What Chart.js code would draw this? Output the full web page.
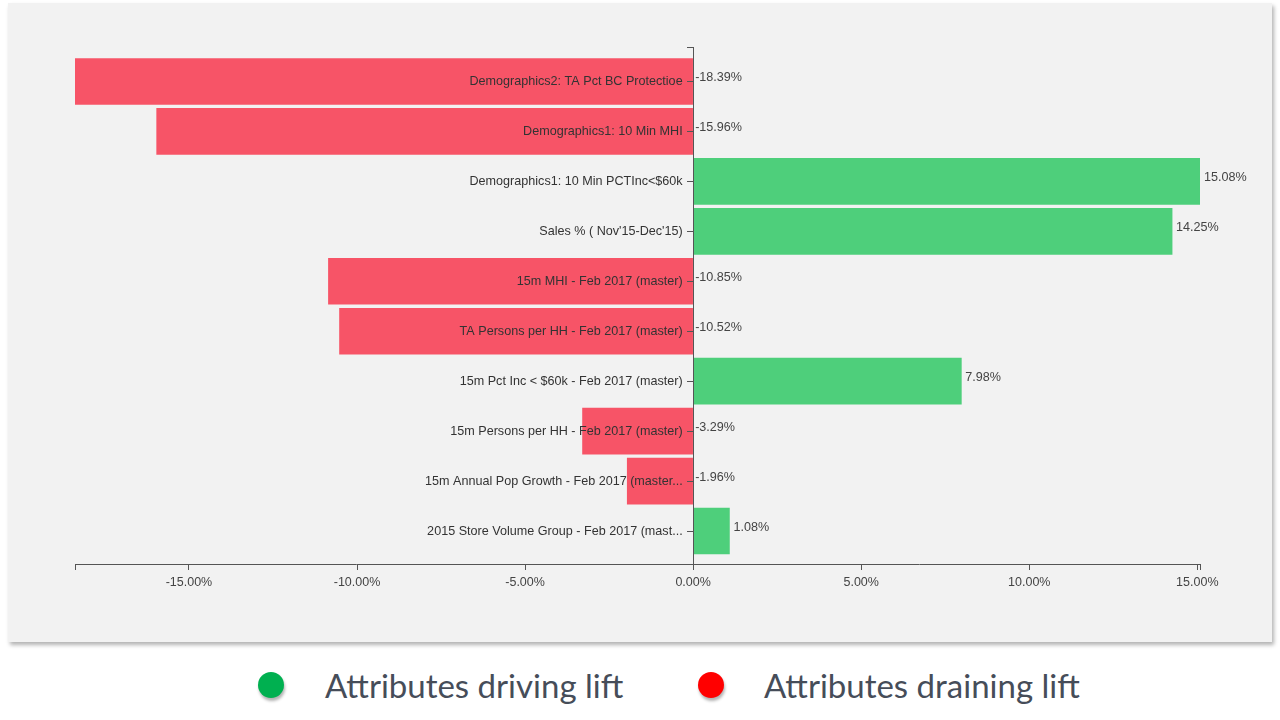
<!DOCTYPE html>
<html>
<head>
<meta charset="utf-8">
<script src="https://cdn.jsdelivr.net/npm/chart.js@4.4.1/dist/chart.umd.min.js"></script>
<style>
  html, body { margin: 0; padding: 0; background: #fff; }
  body { width: 1280px; height: 720px; position: relative; overflow: hidden; }
  #panel {
    position: absolute; left: 8px; top: 3px; width: 1264px; height: 639px;
    background: #f2f2f2; box-shadow: 2px 3px 4px rgba(0, 0, 0, 0.3);
  }
  #legend {
    position: absolute; left: 0; top: 662px; width: 1280px; height: 46px;
    font-family: Lato, "Open Sans", sans-serif; font-size: 33px; color: #464d59;
  }
  .item { position: absolute; top: 0; height: 46px; line-height: 46px; white-space: nowrap; }
  .dot {
    position: absolute; top: 10px; width: 26px; height: 26px; border-radius: 50%;
    box-shadow: 1px 3px 3px rgba(0, 0, 0, 0.3);
  }
</style>
</head>
<body>
<div id="panel"><canvas id="chart"></canvas></div>
<div id="legend">
  <div class="dot" style="left:258px;background:#00b050"></div>
  <div class="item" style="left:325px">Attributes driving lift</div>
  <div class="dot" style="left:698px;background:#ff0000"></div>
  <div class="item" style="left:764px">Attributes draining lift</div>
</div>
<script>
  var categories = [
    'Demographics2: TA Pct BC Protectioe',
    'Demographics1: 10 Min MHI',
    'Demographics1: 10 Min PCTInc<$60k',
    "Sales % ( Nov'15-Dec'15)",
    '15m MHI - Feb 2017 (master)',
    'TA Persons per HH - Feb 2017 (master)',
    '15m Pct Inc < $60k - Feb 2017 (master)',
    '15m Persons per HH - Feb 2017 (master)',
    '15m Annual Pop Growth - Feb 2017 (master...',
    '2015 Store Volume Group - Feb 2017 (mast...'
  ];
  var liftValues = [-18.39, -15.96, 15.08, 14.25, -10.85, -10.52, 7.98, -3.29, -1.96, 1.08];
  var xTickValues = [-15, -10, -5, 0, 5, 10, 15];

  var GREEN = '#4ecf7b';
  var RED = '#f75467';
  var AXIS = '#555';
  var FONT = 'Arial, "Liberation Sans", sans-serif';

  var xMin = Math.min.apply(null, liftValues);
  var xMax = Math.max.apply(null, liftValues);

  // value labels next to the zero line (negative) or at the bar end (positive)
  var valueLabels = {
    id: 'valueLabels',
    afterDatasetsDraw: function (chart) {
      var ctx = chart.ctx;
      var meta = chart.getDatasetMeta(0);
      var zero = chart.scales.x.getPixelForValue(0);
      ctx.save();
      ctx.font = '12.6px ' + FONT;
      ctx.fillStyle = '#444';
      ctx.textAlign = 'left';
      ctx.textBaseline = 'middle';
      meta.data.forEach(function (bar, i) {
        var v = liftValues[i];
        var x = v < 0 ? zero + 2 : bar.x + 4;
        ctx.fillText(v.toFixed(2) + '%', x, bar.y - 4);
      });
      ctx.restore();
    }
  };

  new Chart(document.getElementById('chart'), {
    type: 'bar',
    data: {
      datasets: [{
        data: liftValues.map(function (v, i) { return { x: v, y: i }; }),
        backgroundColor: liftValues.map(function (v) { return v < 0 ? RED : GREEN; }),
        barThickness: 46,
        borderWidth: 0
      }]
    },
    options: {
      indexAxis: 'y',
      responsive: true,
      maintainAspectRatio: false,
      animation: false,
      layout: { padding: { left: 67, right: 72, top: 44, bottom: 47 } },
      plugins: { legend: { display: false }, tooltip: { enabled: false } },
      scales: {
        x: {
          type: 'linear',
          position: 'bottom',
          min: xMin,
          max: xMax,
          afterBuildTicks: function (scale) {
            scale.ticks = [xMin].concat(xTickValues, [xMax]).map(function (v) { return { value: v }; });
          },
          grid: { drawOnChartArea: false, tickLength: 6, color: AXIS },
          border: { color: AXIS },
          ticks: {
            autoSkip: false,
            maxRotation: 0,
            padding: 5,
            color: '#444',
            font: { family: FONT, size: 12.5 },
            callback: function (v) {
              return xTickValues.indexOf(v) >= 0 ? v.toFixed(2) + '%' : '';
            }
          }
        },
        y: {
          type: 'linear',
          position: { x: 0 },
          reverse: true,
          offset: false,
          min: -0.69,
          max: categories.length - 1 + 0.66,
          afterBuildTicks: function (scale) {
            var t = [scale.min];
            categories.forEach(function (c, i) { t.push(i); });
            t.push(scale.max);
            scale.ticks = t.map(function (v) { return { value: v }; });
          },
          grid: { offset: false, drawOnChartArea: false, tickLength: 6, color: AXIS, z: 1 },
          border: { color: AXIS, z: 1 },
          ticks: {
            z: 1,
            autoSkip: false,
            color: '#333',
            font: { family: FONT, size: 12.6 },
            callback: function (v) {
              return Number.isInteger(v) && categories[v] ? categories[v] + '   ' : '';
            }
          }
        }
      }
    },
    plugins: [valueLabels]
  });
</script>
</body>
</html>
